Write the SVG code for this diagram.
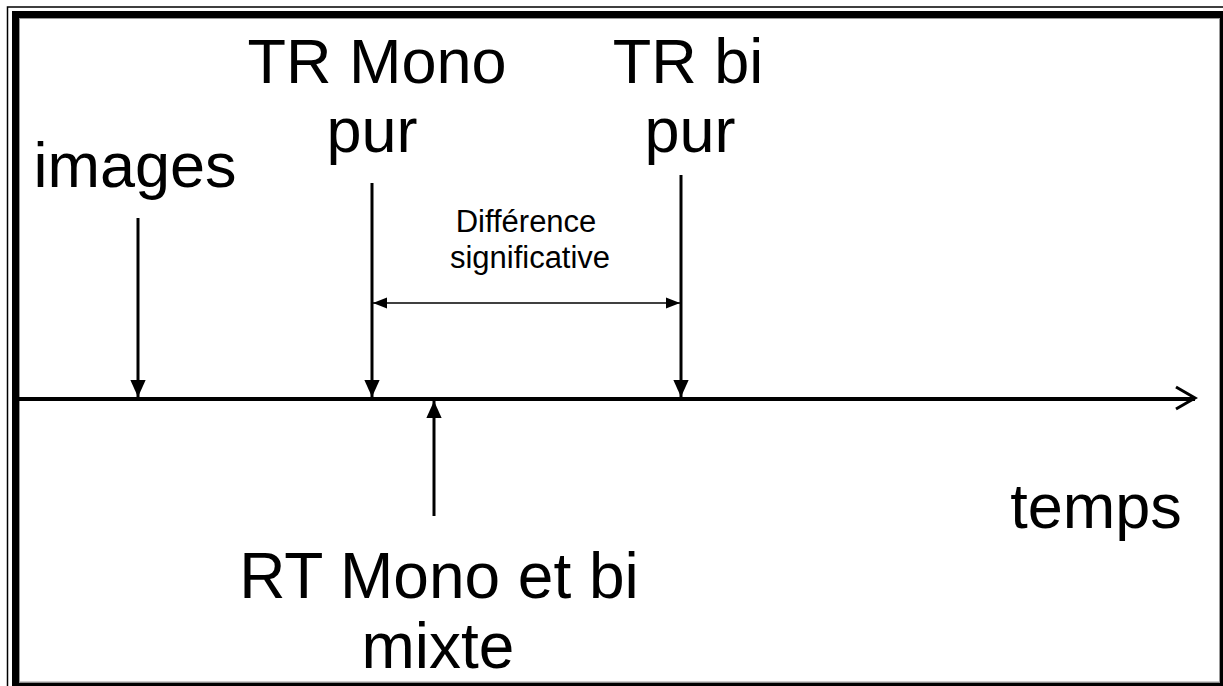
<svg xmlns="http://www.w3.org/2000/svg" width="1223" height="686" viewBox="0 0 1223 686">
<defs>
<style>
.t{font-family:"Liberation Sans",Arial,sans-serif;fill:#000;text-anchor:middle}
.big{font-size:63px}
.small{font-size:31px}
.ln{stroke:#000;fill:none}
</style>
<marker id="tri" viewBox="0 0 10 10" refX="10" refY="5" markerUnits="userSpaceOnUse" markerWidth="17" markerHeight="17" orient="auto"><path d="M0,0.5 L10,5 L0,9.5 Z" fill="#000"/></marker>
<marker id="triS" viewBox="0 0 10 10" refX="10" refY="5" markerUnits="userSpaceOnUse" markerWidth="14" markerHeight="14" orient="auto-start-reverse"><path d="M0,1 L10,5 L0,9 Z" fill="#000"/></marker>
</defs>
<rect width="1223" height="686" fill="#fff"/>
<g id="frame">
<rect x="7.5" y="7" width="1240" height="700" fill="none" stroke="#000" stroke-width="1.5"/>
<rect x="15.5" y="14.5" width="1208" height="671.5" fill="none" stroke="#000" stroke-width="7"/>
<rect x="19.5" y="18.5" width="1200" height="663.5" fill="none" stroke="#999" stroke-width="1"/>
</g>
<g id="connectors">
<path class="ln" d="M19,399 H1195" stroke-width="4"/>
<path class="ln" d="M1176,387 L1195,398 L1176,409" stroke-width="3"/>
<path class="ln" d="M138,218 V397" stroke-width="3" marker-end="url(#tri)"/>
<path class="ln" d="M372,183 V397" stroke-width="3" marker-end="url(#tri)"/>
<path class="ln" d="M681,175 V397" stroke-width="3" marker-end="url(#tri)"/>
<path class="ln" d="M434,516 V401" stroke-width="3" marker-end="url(#tri)"/>
<path class="ln" d="M373,303 H680" stroke-width="1.5" marker-start="url(#triS)" marker-end="url(#triS)"/>
</g>
<g id="images"><text class="t big" x="135" y="187">images</text></g>
<g id="tr-mono"><text class="t big" x="377" y="83">TR Mono</text><text class="t big" x="372" y="152">pur</text></g>
<g id="tr-bi"><text class="t big" x="688" y="83">TR bi</text><text class="t big" x="690" y="152">pur</text></g>
<g id="diff"><text class="t small" x="526" y="232">Différence</text><text class="t small" x="530" y="268">significative</text></g>
<g id="temps"><text class="t big" x="1096" y="528">temps</text></g>
<g id="rt"><text class="t big" style="font-size:64px" x="439" y="598">RT Mono et bi</text><text class="t big" style="font-size:64px" x="438" y="668">mixte</text></g>
</svg>
